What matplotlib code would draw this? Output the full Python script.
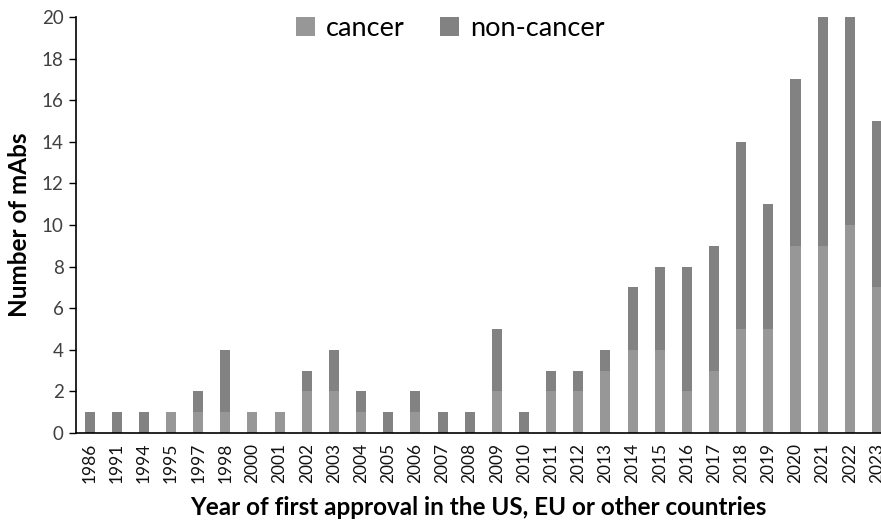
"""Stacked bar chart of mAb approvals per year"""
import numpy as np
from matplotlib import pyplot as plt

YEARS = ["1986", "1991", "1994", "1995", "1997", "1998", "2000", "2001", "2002",
         "2003", "2004", "2005", "2006", "2007", "2008", "2009", "2010", "2011",
         "2012", "2013", "2014", "2015", "2016", "2017", "2018", "2019", "2020",
         "2021", "2022", "2023"]
CANCER = [0, 0, 0, 1, 1, 1, 1, 1, 2, 2, 1, 0, 1, 0, 0, 2, 0, 2, 2, 3, 4, 4, 2, 3,
          5, 5, 9, 9, 10, 7]
NON_CANCER = [1, 1, 1, 0, 1, 3, 0, 0, 1, 2, 1, 1, 1, 1, 1, 3, 1, 1, 1, 1, 3, 4, 6,
              6, 9, 6, 8, 11, 10, 8]

CANCER_COLOR = "#979797"
NON_CANCER_COLOR = "#828282"

plt.rcParams["font.family"] = ["Lato", "DejaVu Sans"]

fig = plt.figure(figsize=(8.81, 5.23), dpi=100)
ax = fig.add_axes([76 / 881, 1 - 433 / 523, 1 - 76 / 881, (433 - 17) / 523])

x = np.arange(len(YEARS))
ax.bar(x, CANCER, width=0.37, color=CANCER_COLOR, label="cancer")
ax.bar(x, NON_CANCER, width=0.37, bottom=CANCER, color=NON_CANCER_COLOR,
       label="non-cancer")

ax.set_xlim(-0.5, 29.15)
ax.set_ylim(0, 20)
ax.set_yticks(range(0, 21, 2))
ax.set_xticks(x)
ax.set_xticklabels(YEARS, rotation=90, fontsize=12.5, color="#111111")
ax.tick_params(axis="x", length=0, pad=7)
ax.tick_params(axis="y", length=5, width=1, labelsize=13.5, colors="black",
               labelcolor="#404040", pad=4)

for side in ("top", "right"):
    ax.spines[side].set_visible(False)
ax.spines["left"].set_linewidth(1.2)
ax.spines["bottom"].set_linewidth(1.2)

ax.set_xlabel("Year of first approval in the US, EU or other countries",
              fontsize=17.5, fontweight="bold", labelpad=9)
ax.set_ylabel("Number of mAbs", fontsize=17.5, fontweight="bold", labelpad=8)

ax.legend(loc="upper center", bbox_to_anchor=(0.465, 1.06), ncol=2,
          frameon=False, fontsize=19.5, handlelength=0.7, handleheight=0.7,
          handletextpad=0.4, columnspacing=1.3)

plt.savefig("out.png", dpi=100)
